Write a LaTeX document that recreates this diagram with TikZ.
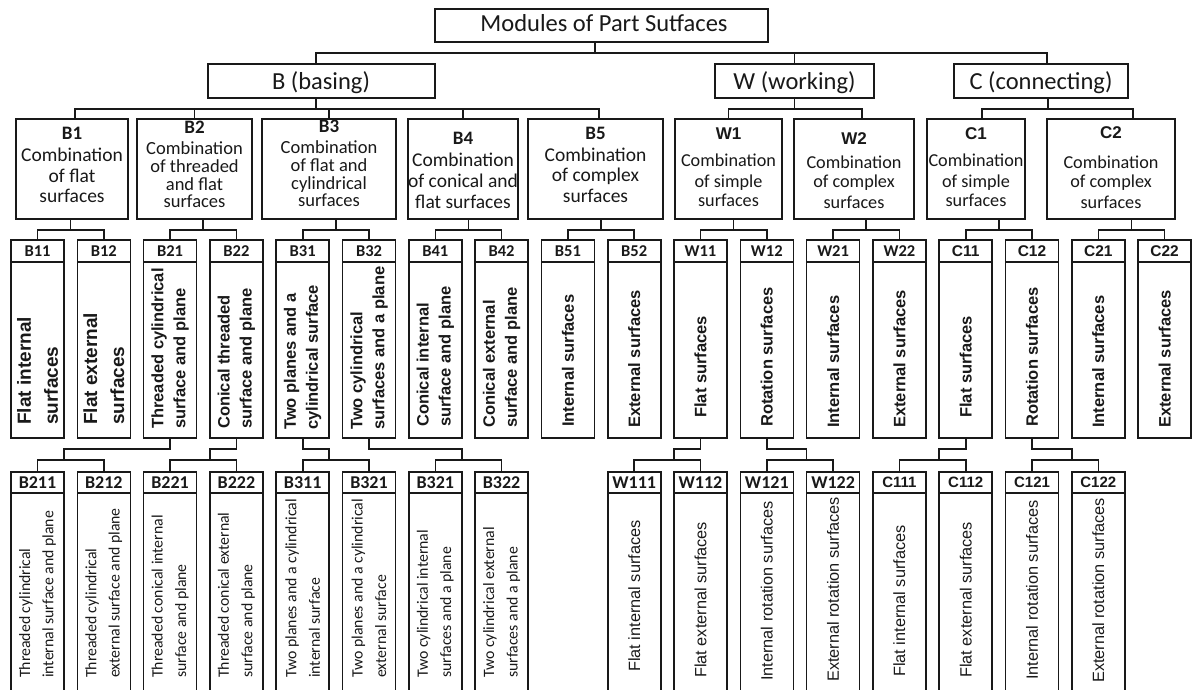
\documentclass[tikz,border=0pt]{standalone}
\usepackage{fontspec}
\setmainfont{Carlito}
\newfontfamily\libs{Liberation Sans}
\usetikzlibrary{calc}
\definecolor{ink}{gray}{0.1}
\newcommand\fsz[2]{\fontsize{#1}{#2}\selectfont}
\tikzset{
  bx/.style={draw=ink, line width=1.6pt, inner sep=0pt, outer sep=0pt, fill=white},
  ln/.style={draw=ink, line width=1.6pt},
  txt/.style={inner sep=0pt, text=ink},
  topf/.style={txt, anchor=base, font=\fsz{24.5}{28}},
  lab2b/.style={font=\bfseries\fsz{19}{21}},
  lab2c/.style={font=\libs\bfseries\fsz{17}{20}},
  txt2b/.style={font=\fsz{19.5}{21}},
  txt2s/.style={font=\fsz{18.5}{20}},
  txt2c/.style={font=\fsz{18.2}{20}},
  l3/.style={bx, minimum width=53pt, minimum height=198pt},
  l4/.style={bx, minimum width=53pt, minimum height=230pt},
  h3b/.style={font=\bfseries\fsz{16.5}{18}},
  h3c/.style={font=\libs\bfseries\fsz{15.5}{18}},
  h4b/.style={font=\bfseries\fsz{18}{20}},
  h4c/.style={font=\libs\bfseries\fsz{15}{18}},
  b3/.style={txt, rotate=90, anchor=west, align=left, font=\libs\bfseries\fsz{16.5}{22}},
  b3big/.style={txt, rotate=90, anchor=west, align=left, font=\libs\bfseries\fsz{19}{27}},
  b4b/.style={txt, rotate=90, anchor=west, align=left, font=\fsz{15.8}{23.4}},
  b4c/.style={txt, rotate=90, anchor=west, align=left, font=\libs\fsz{16.3}{19}}
}
% level-3 box: name, x, header style, header text
\newcommand\mkthree[4]{%
  \node[l3] (#1) at (#2,339) {};
  \draw[ln] ($(#1.north west)+(0,22)$) -- ($(#1.north east)+(0,22)$);
  \node[txt,#3] (#1h) at (#2,251) {#4};
}
% level-4 box: name, x, header style, header text
\newcommand\mkfour[4]{%
  \node[l4] (#1) at (#2,587) {};
  \draw[ln] ($(#1.north west)+(0,21)$) -- ($(#1.north east)+(0,21)$);
  \node[txt,#3] (#1h) at (#2,482.5) {#4};
}
% text lines: name, x, first baseline, line step, style, lines
\newcommand\txtstack[6]{%
  \foreach \s [count=\k from 0] in {#6} {
    \node[txt, anchor=base, #5] (#1-\k) at (#2, {#3+#4*\k}) {\s};
  }
}
\newcommand\pairup[3]{%
  \draw[ln] (#2.north) -- ++(0,-10) -| (#3.north);
  \draw[ln] ($(#2.north)!0.5!(#3.north)+(0,-10)$) -- ++(0,-11);
}
\newcommand\kinkdown[4]{%
  \draw[ln] (#1.south) -- ++(0,11) -| ($(#4)+(0,-12)$);
  \draw[ln] (#2.north) -- ++(0,-12) -| (#3.north);
}
\begin{document}
\begin{tikzpicture}[x=1pt, y=-1pt]
\useasboundingbox (0,0) rectangle (1192,690);
\clip (0,0) rectangle (1192,690);
\fill[white] (0,0) rectangle (1192,690);

% level 0 and 1
\node[bx, minimum width=333pt, minimum height=33pt] (root) at (601.5,25.5) {};
\node[topf] (roott) at (604,32) {Modules of Part Sutfaces};
\node[bx, minimum width=227pt, minimum height=34pt] (B) at (321.5,81) {};
\node[topf] (Bt) at (321,90) {B (basing)};
\node[bx, minimum width=159pt, minimum height=34pt] (W) at (794.5,81) {};
\node[topf] (Wt) at (794.5,90) {W (working)};
\node[bx, minimum width=174pt, minimum height=34pt] (C) at (1041,81) {};
\node[topf] (Ct) at (1041,90) {C (connecting)};

% level 2
\node[bx, minimum width=112pt, minimum height=100pt] (B1) at (72,169) {};
\node[bx, minimum width=115pt, minimum height=100pt] (B2) at (194.5,169) {};
\node[bx, minimum width=134pt, minimum height=100pt] (B3) at (329,169) {};
\node[bx, minimum width=110pt, minimum height=100pt] (B4) at (463,169) {};
\node[bx, minimum width=135pt, minimum height=100pt] (B5) at (595.5,169) {};
\node[bx, minimum width=107pt, minimum height=100pt] (W1) at (728.5,169) {};
\node[bx, minimum width=120pt, minimum height=100pt] (W2) at (854,169) {};
\node[bx, minimum width=98pt, minimum height=100pt] (C1) at (976,169) {};
\node[bx, minimum width=128pt, minimum height=100pt] (C2) at (1111,169) {};

\node[txt, anchor=base, lab2b] (B1l) at (72,140) {B1};
\txtstack{B1x}{72}{162}{20.5}{txt2b}{Combination,of flat,surfaces}
\node[txt, anchor=base, lab2b] (B2l) at (194.5,134) {B2};
\txtstack{B2x}{194.5}{155}{17.6}{txt2s}{Combination,of threaded,and flat,surfaces}
\node[txt, anchor=base, lab2b] (B3l) at (329,133) {B3};
\txtstack{B3x}{329}{154}{17.6}{txt2s}{Combination,of flat and,cylindrical,surfaces}
\node[txt, anchor=base, lab2b] (B4l) at (463,145) {B4};
\txtstack{B4x}{463}{167}{20.5}{txt2b}{Combination,of conical and,flat surfaces}
\node[txt, anchor=base, lab2b] (B5l) at (595.5,140) {B5};
\txtstack{B5x}{595.5}{162}{20}{txt2b}{Combination,of complex,surfaces}
\node[txt, anchor=base, lab2c] (W1l) at (728.5,140) {W1};
\txtstack{W1x}{728.5}{167}{20}{txt2c}{Combination,of simple,surfaces}
\node[txt, anchor=base, lab2c] (W2l) at (854,145) {W2};
\txtstack{W2x}{854}{168}{20}{txt2c}{Combination,of complex,surfaces}
\node[txt, anchor=base, lab2c] (C1l) at (976,140) {C1};
\txtstack{C1x}{976}{167}{20}{txt2c}{Combination,of simple,surfaces}
\node[txt, anchor=base, lab2c] (C2l) at (1111,139) {C2};
\txtstack{C2x}{1111}{168}{20}{txt2c}{Combination,of complex,surfaces}

% level 3
\mkthree{B11}{37.5}{h3b}{B11}
\mkthree{B12}{103.8}{h3b}{B12}
\mkthree{B21}{170.1}{h3b}{B21}
\mkthree{B22}{236.4}{h3b}{B22}
\mkthree{B31}{302.7}{h3b}{B31}
\mkthree{B32}{369.0}{h3b}{B32}
\mkthree{B41}{435.3}{h3b}{B41}
\mkthree{B42}{501.6}{h3b}{B42}
\mkthree{B51}{567.9}{h3b}{B51}
\mkthree{B52}{634.2}{h3b}{B52}
\mkthree{W11}{700.5}{h3b}{W11}
\mkthree{W12}{766.8}{h3b}{W12}
\mkthree{W21}{833.1}{h3b}{W21}
\mkthree{W22}{899.4}{h3b}{W22}
\mkthree{C11}{965.7}{h3c}{C11}
\mkthree{C12}{1032.0}{h3c}{C12}
\mkthree{C21}{1098.3}{h3c}{C21}
\mkthree{C22}{1164.6}{h3c}{C22}

\node[b3big] (B11t) at (37.5,425) {Flat internal\\surfaces};
\node[b3big] (B12t) at (103.8,425) {Flat external\\surfaces};
\node[b3] (B21t) at (170.1,429) {Threaded cylindrical\\surface and plane};
\node[b3] (B22t) at (236.4,429) {Conical threaded\\surface and plane};
\node[b3] (B31t) at (302.7,430) {Two planes and a\\cylindrical surface};
\node[b3] (B32t) at (369.0,430) {Two cylindrical\\surfaces and a plane};
\node[b3] (B41t) at (435.3,427) {Conical internal\\surface and plane};
\node[b3] (B42t) at (501.6,428) {Conical external\\surface and plane};
\node[b3] (B51t) at (567.9,427) {Internal surfaces};
\node[b3] (B52t) at (634.2,428) {External surfaces};
\node[b3] (W11t) at (700.5,418) {Flat surfaces};
\node[b3] (W12t) at (766.8,427) {Rotation surfaces};
\node[b3] (W21t) at (833.1,428) {Internal surfaces};
\node[b3] (W22t) at (899.4,428) {External surfaces};
\node[b3] (C11t) at (965.7,418) {Flat surfaces};
\node[b3] (C12t) at (1032.0,427) {Rotation surfaces};
\node[b3] (C21t) at (1098.3,428) {Internal surfaces};
\node[b3] (C22t) at (1164.6,428) {External surfaces};

% level 4
\mkfour{B211}{37.5}{h4b}{B211}
\mkfour{B212}{103.8}{h4b}{B212}
\mkfour{B221}{170.1}{h4b}{B221}
\mkfour{B222}{236.4}{h4b}{B222}
\mkfour{B311}{302.7}{h4b}{B311}
\mkfour{B321}{369.0}{h4b}{B321}
\mkfour{B321b}{435.3}{h4b}{B321}
\mkfour{B322}{501.6}{h4b}{B322}
\mkfour{W111}{634.2}{h4b}{W111}
\mkfour{W112}{700.5}{h4b}{W112}
\mkfour{W121}{766.8}{h4b}{W121}
\mkfour{W122}{833.1}{h4b}{W122}
\mkfour{C111}{899.4}{h4c}{C111}
\mkfour{C112}{965.7}{h4c}{C112}
\mkfour{C121}{1032.0}{h4c}{C121}
\mkfour{C122}{1098.3}{h4c}{C122}

\node[b4b] (B211t) at (37.5,678) {Threaded cylindrical\\internal surface and plane};
\node[b4b] (B212t) at (103.8,678) {Threaded cylindrical\\external surface and plane};
\node[b4b] (B221t) at (170.1,678) {Threaded conical internal\\surface and plane};
\node[b4b] (B222t) at (236.4,678) {Threaded conical external\\surface and plane};
\node[b4b] (B311t) at (302.7,678) {Two planes and a cylindrical\\internal surface};
\node[b4b] (B321t) at (369.0,678) {Two planes and a cylindrical\\external surface};
\node[b4b] (B321bt) at (435.3,678) {Two cylindrical internal\\surfaces and a plane};
\node[b4b] (B322t) at (501.6,678) {Two cylindrical external\\surfaces and a plane};
\node[b4c] (W111t) at (634.2,672) {Flat internal surfaces};
\node[b4c] (W112t) at (700.5,678) {Flat external surfaces};
\node[b4c] (W121t) at (766.8,681) {Internal rotation surfaces};
\node[b4c] (W122t) at (833.1,682) {External rotation surfaces};
\node[b4c] (C111t) at (899.4,677) {Flat internal surfaces};
\node[b4c] (C112t) at (965.7,678) {Flat external surfaces};
\node[b4c] (C121t) at (1032.0,680) {Internal rotation surfaces};
\node[b4c] (C122t) at (1098.3,683) {External rotation surfaces};

% connectors level 0 -> 1
\draw[ln] ([xshift=-6.5pt]root.south) -- ++(0,11);
\draw[ln] ([xshift=-5.5pt]B.north) -- ++(0,-11) -| ([xshift=6pt]C.north);
\draw[ln] (W.north) -- ++(0,-11);
% level 1 -> 2
\draw[ln] ([xshift=-5.5pt]B.south) -- ++(0,11);
\draw[ln] ([xshift=3pt]B1.north) -- ++(0,-10) -| ([xshift=3.5pt]B5.north);
\draw[ln] (B2.north) -- ++(0,-10);
\draw[ln] (B3.north) -- ++(0,-10);
\draw[ln] (B4.north) -- ++(0,-10);
\draw[ln] (W.south) -- ++(0,11);
\draw[ln] (W1.north) -- ++(0,-10) -| ([xshift=8pt]W2.north);
\draw[ln] ([xshift=7pt]C.south) -- ++(0,11);
\draw[ln] ([xshift=6pt]C1.north) -- ++(0,-10) -| ([xshift=22pt]C2.north);
% level 2 -> 3
\pairup{B1}{B11}{B12}
\pairup{B2}{B21}{B22}
\pairup{B3}{B31}{B32}
\pairup{B4}{B41}{B42}
\pairup{B5}{B51}{B52}
\pairup{W1}{W11}{W12}
\pairup{W2}{W21}{W22}
\pairup{C1}{C11}{C12}
\pairup{C2}{C21}{C22}
% level 3 -> 4
\kinkdown{B21}{B211}{B212}{B211.north east}
\kinkdown{B22}{B221}{B222}{B222.north west}
\kinkdown{B31}{B311}{B321}{B311.north east}
\kinkdown{B32}{B321b}{B322}{B321b.north east}
\kinkdown{W11}{W111}{W112}{W112.north west}
\kinkdown{W12}{W121}{W122}{W122.north west}
\kinkdown{C11}{C111}{C112}{C112.north west}
\kinkdown{C12}{C121}{C122}{C122.north west}
\end{tikzpicture}
\end{document}
